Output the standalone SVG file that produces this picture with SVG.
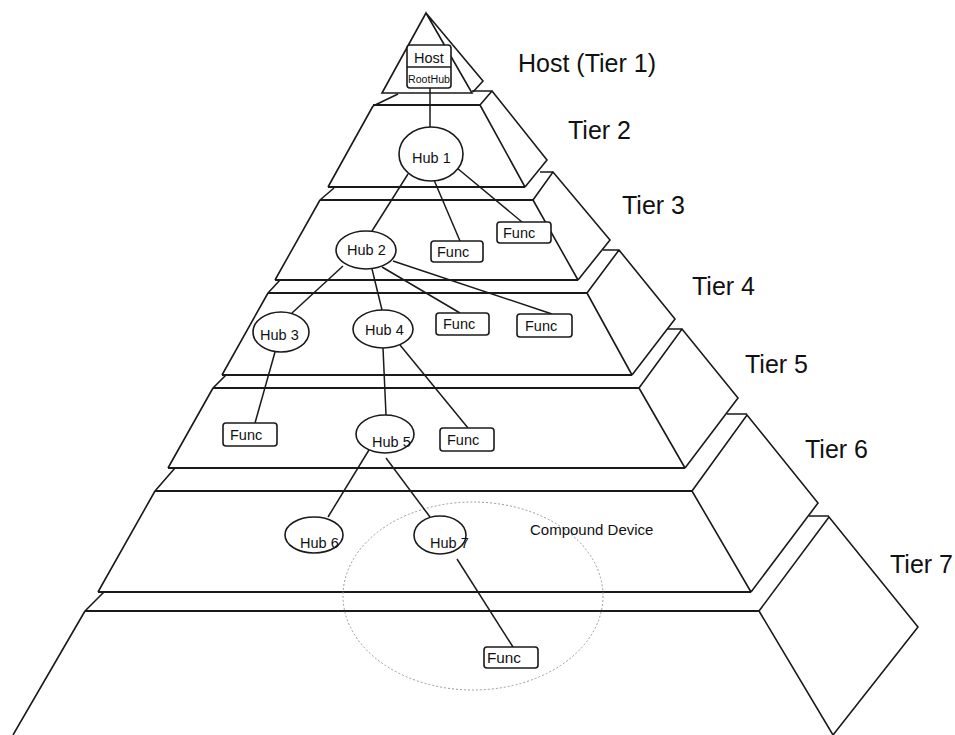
<svg xmlns="http://www.w3.org/2000/svg" width="955" height="735" viewBox="0 0 955 735">
<style>
.p{fill:none;stroke:#1a1a1a;stroke-width:1.6;stroke-linejoin:miter}
.h{fill:none;stroke:#1a1a1a;stroke-width:2.2}
.c line{stroke:#1a1a1a;stroke-width:1.5}
.node ellipse,.node rect{fill:#fff;stroke:#1a1a1a;stroke-width:1.6}
.t{font-family:"Liberation Sans",Arial,sans-serif;fill:#111}
.tier{font-size:25px}
.lbl{font-size:14.5px}
</style>
<rect width="955" height="735" fill="#fff"/>
<g id="pyramid">
<!-- tier 1 -->
<path class="p" d="M382,93 L426,13 L472,93 Z M426,13 L483,81 L473,92"/>
<!-- tier 2 -->
<path class="p" d="M373,106 L398,94 M472,91 L492,91 M480,105 L492,91 L547,160 L525,187 M373,106 L328,187 M480,105 L525,187"/>
<path class="h" d="M373,105 L480,105 M328,187 L525,187"/>
<!-- tier 3 -->
<path class="p" d="M320,200 L334,188 M540,172 L553,172 M533,200 L553,172 L610,240 L578,280 M320,200 L275,280 M533,200 L578,280"/>
<path class="h" d="M320,200 L533,200 M275,280 L578,280"/>
<!-- tier 4 -->
<path class="p" d="M268,293 L280,280 M603,250 L619,250 M587,293 L619,250 L675,319 L632,375 M268,293 L222,375 M587,293 L632,375"/>
<path class="h" d="M268,293 L587,293 M222,375 L632,375"/>
<!-- tier 5 -->
<path class="p" d="M213,388 L226,375 M667,329 L682,329 M639,388 L682,329 L738,398 L685,468 M213,388 L168,468 M639,388 L685,468"/>
<path class="h" d="M213,388 L639,388 M168,468 L685,468"/>
<!-- tier 6 -->
<path class="p" d="M155,491 L175,468 M727,414 L747,414 M692,491 L747,415 L818,503 L751,592 M155,491 L98,592 M692,491 L751,592"/>
<path class="h" d="M155,491 L692,491 M98,592 L751,592"/>
<!-- tier 7 -->
<path class="p" d="M85,611 L104,592 M809,516 L829,516 M759,611 L829,517 L918,627 L833,735 M85,611 L13,735 M759,611 L833,735"/>
<path class="h" d="M85,611 L759,611"/>
</g>
<g id="compound">
<ellipse cx="473" cy="596" rx="130" ry="94" fill="none" stroke="#9a9a9a" stroke-width="1" stroke-dasharray="2,2"/>
<text class="t" x="530" y="535" font-size="15">Compound Device</text>
</g>
<g id="connectors" class="c">
<line x1="430" y1="88" x2="430" y2="127"/>
<line x1="408" y1="174" x2="372" y2="231"/>
<line x1="434" y1="180" x2="460" y2="241"/>
<line x1="457" y1="168" x2="522" y2="222"/>
<line x1="343" y1="266" x2="292" y2="313"/>
<line x1="372" y1="269" x2="382" y2="310"/>
<line x1="382" y1="267" x2="460" y2="313"/>
<line x1="393" y1="261" x2="552" y2="314"/>
<line x1="275" y1="352" x2="255" y2="423"/>
<line x1="383" y1="348" x2="386" y2="415"/>
<line x1="400" y1="345" x2="468" y2="428"/>
<line x1="372" y1="445" x2="328" y2="517"/>
<line x1="386" y1="458" x2="430" y2="517"/>
<line x1="457" y1="559" x2="513" y2="647"/>
</g>
<g id="host" class="node">
<rect x="407" y="45" width="44" height="43" rx="3"/>
<line x1="407" y1="67" x2="451" y2="67" stroke="#1a1a1a" stroke-width="1.4"/>
<text class="t" x="429" y="63" font-size="14.5" text-anchor="middle">Host</text>
<text class="t" x="429" y="83" font-size="10" text-anchor="middle" textLength="42" lengthAdjust="spacingAndGlyphs">RootHub</text>
</g>
<g id="hub1" class="node"><ellipse cx="431" cy="154" rx="32" ry="27"/><text class="t lbl" x="412" y="163">Hub 1</text></g>
<g id="hub2" class="node"><ellipse cx="366" cy="250" rx="30" ry="19"/><text class="t lbl" x="347" y="255">Hub 2</text></g>
<g id="hub3" class="node"><ellipse cx="281" cy="332" rx="28" ry="20"/><text class="t lbl" x="260" y="340">Hub 3</text></g>
<g id="hub4" class="node"><ellipse cx="383" cy="329" rx="30" ry="19"/><text class="t lbl" x="365" y="335">Hub 4</text></g>
<g id="hub5" class="node"><ellipse cx="385" cy="434" rx="29" ry="19"/><text class="t lbl" x="372" y="447">Hub 5</text></g>
<g id="hub6" class="node"><ellipse cx="314" cy="535" rx="29" ry="18"/><text class="t lbl" x="300" y="548">Hub 6</text></g>
<g id="hub7" class="node"><ellipse cx="440" cy="535" rx="26" ry="19"/><text class="t lbl" x="430" y="548">Hub 7</text></g>
<g id="func3a" class="node"><rect x="431" y="241" width="52" height="21" rx="3"/><text class="t lbl" x="437" y="257">Func</text></g>
<g id="func3b" class="node"><rect x="497" y="222" width="54" height="21" rx="3"/><text class="t lbl" x="503" y="238">Func</text></g>
<g id="func4a" class="node"><rect x="436" y="313" width="53" height="22" rx="3"/><text class="t lbl" x="443" y="329">Func</text></g>
<g id="func4b" class="node"><rect x="517" y="314" width="55" height="23" rx="3"/><text class="t lbl" x="525" y="331">Func</text></g>
<g id="func5a" class="node"><rect x="223" y="423" width="54" height="23" rx="3"/><text class="t lbl" x="230" y="440">Func</text></g>
<g id="func5b" class="node"><rect x="440" y="428" width="54" height="23" rx="3"/><text class="t lbl" x="447" y="445">Func</text></g>
<g id="func7" class="node"><rect x="484" y="647" width="54" height="21" rx="3"/><text class="t lbl" x="487" y="663" textLength="34" lengthAdjust="spacingAndGlyphs">Func</text></g>
<g id="labels">
<text class="t tier" x="518" y="72">Host (Tier 1)</text>
<text class="t tier" x="568" y="139">Tier 2</text>
<text class="t tier" x="622" y="214">Tier 3</text>
<text class="t tier" x="692" y="295">Tier 4</text>
<text class="t tier" x="745" y="373">Tier 5</text>
<text class="t tier" x="805" y="458">Tier 6</text>
<text class="t tier" x="890" y="573">Tier 7</text>
</g>
</svg>
